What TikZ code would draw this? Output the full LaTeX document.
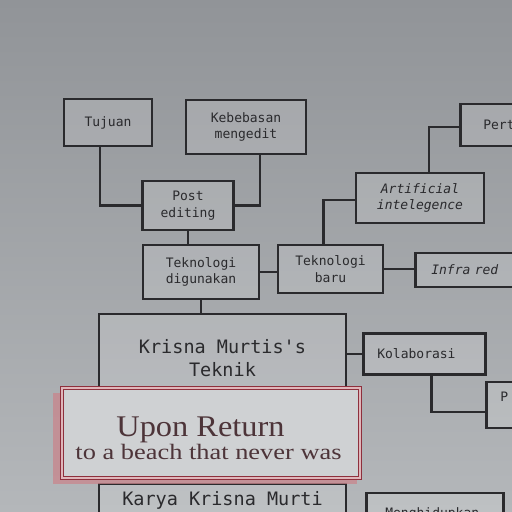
\documentclass[tikz,border=0pt]{standalone}
\usepackage{fontspec}
\setmainfont{Liberation Serif}
\setmonofont{DejaVu Sans Mono}
\usetikzlibrary{calc}

\definecolor{bgtop}{HTML}{919498}
\definecolor{bgbot}{HTML}{B4B7BA}
\definecolor{ink}{HTML}{2A2A2D}
\definecolor{redframe}{HTML}{8E2F3C}
\definecolor{redglow}{HTML}{C9858C}
\definecolor{titlefill}{HTML}{CFD1D3}
\definecolor{titleink}{HTML}{4D3439}

\begin{document}
\begin{tikzpicture}[x=1pt,y=-1pt,
    box/.style={draw=ink, line width=2.6pt, fill=white, fill opacity=0.14,
        text opacity=1, text=ink, inner sep=0pt, align=center,
        font=\ttfamily\fontsize{13}{16.5}\selectfont},
    bigbox/.style={box, font=\ttfamily\fontsize{18.5}{23}\selectfont},
    leftbox/.style={box, align=left, anchor=west},
    link/.style={draw=ink, line width=2.6pt}]

    \useasboundingbox (0,0) rectangle (512,512);
    \shade[top color=bgtop, bottom color=bgbot] (0,0) rectangle (512,512);
    \clip (0,0) rectangle (512,512);

    % upper boxes
    \node[box, minimum width=88, minimum height=47] (tujuan) at (108,122.5) {Tujuan};
    \node[box, minimum width=120, minimum height=54] (kebebasan) at (246,127) {Kebebasan\\mengedit};
    \node[box, minimum width=91, minimum height=49] (postedit) at (188,205.5) {Post\\editing};
    \node[box, minimum width=116, minimum height=54] (tekdigun) at (201,272) {Teknologi\\digunakan};
    \node[box, minimum width=105, minimum height=48] (tekbaru) at (330.5,269) {Teknologi\\baru};
    \node[box, minimum width=128, minimum height=50, font=\ttfamily\itshape\fontsize{13}{16.5}\selectfont]
        (artif) at (420,198) {Artificial\\intelegence};

    % right side, cut off by the edge
    \node[leftbox, minimum width=110, minimum height=42, inner xsep=23, text width=64] (pert) at (459,125) {Pert};
    \node[leftbox, minimum width=150, minimum height=34, inner xsep=16, text width=118,
        font=\ttfamily\itshape\fontsize{13}{16.5}\selectfont] (infra) at (414,270) {Infra red};
    \node[leftbox, minimum width=122, minimum height=41, inner xsep=14, text width=94] (kolab) at (362,354) {Kolaborasi};
    \node[leftbox, minimum width=80, minimum height=46, inner xsep=14, text width=52] (pnode) at (485,405) {P\\~};
    \node[leftbox, minimum width=137, minimum height=42, inner xsep=19, text width=99] (hidup) at (365,514) {Menghidupkan};

    % main column
    \node[bigbox, minimum width=247, minimum height=88] (krisna) at (222.5,358) {Krisna Murtis's\\Teknik};
    \node[bigbox, minimum width=247, minimum height=32] (karya) at (222.5,500) {Karya Krisna Murti};

    % connectors
    \draw[link] ($(tujuan.south)+(-8,0)$) |- (postedit.west);
    \draw[link] ($(kebebasan.south)+(14,0)$) |- (postedit.east);
    \draw[link] (postedit.south) -- (postedit.south |- tekdigun.north);
    \draw[link] (tekdigun.east) -- (tekdigun.east -| tekbaru.west);
    \draw[link] (tekdigun.south) -- (tekdigun.south |- krisna.north);
    \draw[link] ($(tekbaru.north)+(-7,0)$) |- ($(artif.west)+(0,2)$);
    \draw[link] ($(artif.north)+(9,0)$) |- ($(pert.west)+(0,2)$);
    \draw[link] (tekbaru.east) -- (tekbaru.east -| infra.west);
    \draw[link] (krisna.east |- kolab.west) -- (kolab.west);
    \draw[link] ($(kolab.south)+(7,0)$) |- ($(pnode.west)+(0,7)$);

    % title banner
    \fill[redglow, opacity=0.75] (53,393) rectangle (357,484);
    \node[draw=redframe, line width=1.2pt, double=redglow!60, double distance=1.8pt,
        fill=titlefill, minimum width=298, minimum height=90] (banner) at (211,433) {};
    \node[anchor=base, text=titleink, font=\fontsize{30}{30}\selectfont] (titlemain) at (200.5,436)
        {\scalebox{1.08}[1]{Upon Return}};
    \node[anchor=base, text=titleink, font=\fontsize{22}{22}\selectfont] (titlesub) at (208.5,459)
        {\scalebox{1.2}[1]{to a beach that never was}};
\end{tikzpicture}
\end{document}
